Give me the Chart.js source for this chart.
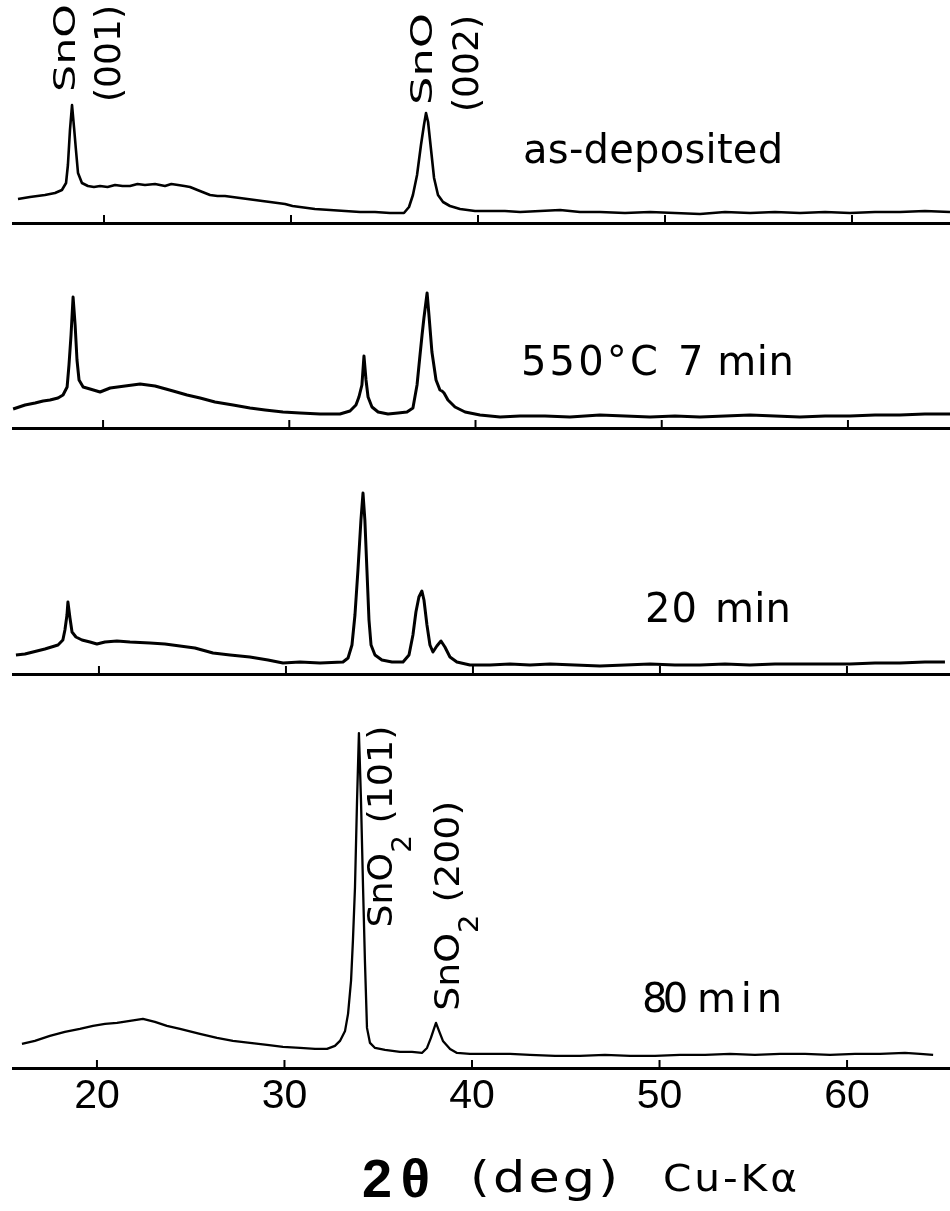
<!DOCTYPE html>
<html>
<head>
<meta charset="utf-8">
<title>XRD – SnO film annealed at 550 °C</title>
<script src="https://cdn.jsdelivr.net/npm/chart.js@4.4.1/dist/chart.umd.min.js"></script>
<style>
  body { margin: 0; background: #fff; }
  #fig { position: relative; width: 950px; height: 1211px; overflow: hidden; }
  #fig canvas { position: absolute; left: 12px; }
</style>
</head>
<body>
<div id="fig">
  <canvas id="scanA" width="938" height="227" style="top:0px"></canvas>
  <canvas id="scanB" width="938" height="182" style="top:250px"></canvas>
  <canvas id="scanC" width="938" height="238" style="top:440px"></canvas>
  <canvas id="scanD" width="938" height="511" style="top:700px"></canvas>
</div>
<script>
// 2θ (deg) and intensity (a.u.) of each scan
const angAsDep = [15.40, 16.04, 16.84, 17.38, 17.75, 17.97, 18.07, 18.18, 18.29, 18.40, 18.50, 18.61, 18.82, 19.14, 19.46, 19.79, 20.19, 20.59, 20.99, 21.39, 21.79, 22.19, 22.73, 23.26, 23.60, 23.96, 24.30, 24.60, 25.13, 25.67, 26.07, 26.47, 26.87, 27.27, 27.67, 28.07, 28.47, 28.88, 29.28, 29.68, 30.08, 30.48, 31.28, 32.09, 32.89, 33.69, 34.49, 35.29, 36.04, 36.31, 36.52, 36.74, 36.95, 37.11, 37.22, 37.33, 37.49, 37.65, 37.86, 38.13, 38.50, 39.04, 39.84, 40.64, 41.44, 42.25, 43.32, 44.39, 45.45, 46.52, 47.86, 49.20, 50.53, 51.87, 53.21, 54.55, 55.88, 57.22, 58.56, 59.89, 61.23, 62.57, 63.90, 65.24];
const intAsDep = [24, 26, 28, 30, 33, 40, 58, 93, 118, 95, 73, 50, 40, 37, 36, 37, 36, 38, 37, 37, 39, 38, 39, 37, 39, 38, 37, 36, 32, 28, 27, 27, 26, 25, 24, 23, 22, 21, 20, 19, 17, 16, 14, 13, 12, 11, 11, 10, 10, 16, 28, 48, 78, 98, 110, 101, 73, 45, 28, 21, 17, 14, 12, 12, 12, 11, 12, 13, 11, 11, 10, 11, 10, 9, 11, 10, 11, 10, 11, 10, 11, 11, 12, 11];

const ang7 = [15.17, 15.81, 16.35, 16.78, 17.15, 17.58, 17.85, 18.07, 18.17, 18.28, 18.39, 18.50, 18.60, 18.71, 18.93, 19.30, 19.84, 20.38, 21.18, 21.99, 22.79, 23.76, 24.51, 25.21, 26.01, 26.98, 27.89, 28.70, 29.66, 30.58, 31.65, 32.72, 33.26, 33.58, 33.74, 33.90, 34.01, 34.12, 34.23, 34.44, 34.77, 35.30, 35.84, 36.32, 36.64, 36.86, 37.02, 37.13, 37.23, 37.40, 37.50, 37.66, 37.88, 38.09, 38.20, 38.31, 38.52, 38.90, 39.44, 40.24, 41.32, 42.39, 43.73, 45.07, 46.68, 48.03, 49.37, 50.71, 52.05, 53.40, 54.74, 56.08, 57.42, 58.77, 60.11, 61.45, 62.79, 64.13, 65.48];
const int7 = [19, 23, 25, 27, 28, 30, 33, 41, 63, 93, 131, 103, 68, 48, 41, 39, 36, 40, 42, 44, 42, 37, 33, 30, 26, 23, 20, 18, 16, 15, 14, 14, 17, 23, 31, 43, 72, 48, 31, 21, 16, 14, 15, 16, 20, 43, 73, 93, 110, 135, 113, 76, 48, 38, 37, 35, 28, 21, 16, 13, 11, 12, 12, 11, 13, 12, 11, 12, 11, 12, 13, 12, 11, 12, 12, 13, 13, 14, 14];

const ang20 = [15.56, 16.04, 16.47, 17.11, 17.81, 18.07, 18.18, 18.29, 18.34, 18.45, 18.56, 18.77, 19.09, 19.52, 19.89, 20.32, 20.96, 21.66, 22.73, 23.53, 24.33, 25.13, 26.10, 27.01, 28.07, 29.04, 29.84, 30.75, 31.82, 33.05, 33.32, 33.53, 33.69, 33.85, 34.01, 34.12, 34.22, 34.33, 34.44, 34.55, 34.76, 35.13, 35.67, 36.26, 36.58, 36.79, 36.95, 37.11, 37.27, 37.38, 37.54, 37.70, 37.86, 38.07, 38.29, 38.50, 38.77, 39.14, 39.84, 40.91, 41.98, 43.05, 44.12, 45.45, 46.79, 48.13, 49.47, 50.80, 52.14, 53.48, 54.81, 56.15, 57.49, 58.82, 60.16, 61.50, 62.83, 64.17, 65.24];
const int20 = [19, 20, 22, 25, 29, 34, 44, 59, 72, 56, 42, 37, 34, 32, 30, 32, 33, 32, 31, 30, 28, 26, 21, 19, 17, 14, 11, 12, 11, 12, 16, 29, 59, 104, 154, 181, 154, 104, 54, 29, 19, 14, 12, 12, 19, 39, 62, 77, 83, 74, 49, 29, 22, 28, 33, 27, 17, 12, 9, 9, 10, 9, 10, 9, 8, 9, 10, 9, 9, 10, 9, 10, 10, 10, 10, 11, 11, 12, 12];

const ang80 = [16.00, 16.69, 17.49, 18.29, 19.09, 19.79, 20.43, 21.07, 21.76, 22.45, 23.09, 23.73, 24.43, 25.49, 26.40, 27.25, 28.16, 29.07, 29.92, 30.83, 31.63, 32.27, 32.69, 32.96, 33.23, 33.39, 33.55, 33.65, 33.76, 33.87, 33.97, 34.08, 34.19, 34.29, 34.40, 34.56, 34.83, 35.36, 36.16, 36.80, 37.33, 37.60, 37.81, 37.97, 38.08, 38.24, 38.45, 38.83, 39.20, 39.89, 40.96, 42.03, 43.09, 44.43, 45.76, 47.09, 48.43, 49.76, 51.09, 52.43, 53.76, 55.09, 56.43, 57.76, 59.09, 60.43, 61.76, 63.09, 63.89, 64.59];
const int80 = [24, 27, 32, 36, 39, 42, 44, 45, 47, 49, 46, 42, 39, 34, 30, 27, 25, 23, 21, 20, 19, 19, 22, 27, 37, 54, 87, 127, 180, 267, 334, 267, 180, 107, 40, 25, 20, 18, 16, 16, 15, 20, 30, 39, 45, 37, 27, 19, 15, 14, 14, 14, 13, 12, 12, 13, 12, 12, 13, 13, 14, 13, 14, 14, 13, 14, 14, 15, 14, 13];

const tickDeg = [20, 30, 40, 50, 60];
const sampleNames = [['as-deposited'], ['550°C', '7 min'], ['20', 'min'], ['80', 'min']];

const FONT = '"DejaVu Sans", "Liberation Sans", sans-serif';

// text stretched by sx, then spread with letter spacing to fill a width
function fitText(ctx, text, x, y, font, width, sx = 1) {
  ctx.save();
  ctx.font = font;
  ctx.letterSpacing = '0px';
  ctx.textAlign = 'left';
  ctx.textBaseline = 'alphabetic';
  const w = ctx.measureText(text).width * sx;
  const n = [...text].length;
  ctx.translate(x, y);
  ctx.scale(sx, 1);
  ctx.letterSpacing = (n > 1 ? (width - w) / (n - 1) / sx : 0) + 'px';
  ctx.fillText(text, 0, 0);
  ctx.restore();
}

// peak assignment written bottom-to-top, stretched along its length
function uprightText(ctx, parts, x, y, size, len) {
  ctx.save();
  ctx.translate(x, y);
  ctx.rotate(-Math.PI / 2);
  ctx.textAlign = 'left';
  ctx.textBaseline = 'middle';
  const fontOf = sub => Math.round(sub ? size * 0.75 : size) + 'px ' + FONT;
  let w = 0;
  for (const [t, sub] of parts) { ctx.font = fontOf(sub); w += ctx.measureText(t).width; }
  ctx.scale(len / w, 1);
  let cx = 0;
  for (const [t, sub] of parts) {
    ctx.font = fontOf(sub);
    ctx.fillText(t, cx, sub ? size * 0.62 : 0);
    cx += ctx.measureText(t).width;
  }
  ctx.restore();
}

const xrdDecor = {
  id: 'xrdDecor',
  afterDraw(chart, args, opts) {
    const { ctx, chartArea } = chart;
    const xs = chart.scales.x, ys = chart.scales.y;
    ctx.save();
    ctx.fillStyle = '#000';
    ctx.strokeStyle = '#000';

    // tick marks stand up from the axis line
    ctx.lineWidth = 2;
    xs.ticks.forEach(t => {
      const px = xs.getPixelForValue(t.value);
      ctx.beginPath();
      ctx.moveTo(px, chartArea.bottom);
      ctx.lineTo(px, chartArea.bottom - 8);
      ctx.stroke();
    });

    (opts.peaks || []).forEach(p => {
      uprightText(ctx, p.parts, xs.getPixelForValue(p.at[0]), ys.getPixelForValue(p.at[1]), p.size, p.len);
    });

    (opts.name || []).forEach(n => {
      fitText(ctx, n.text, xs.getPixelForValue(n.at[0]), ys.getPixelForValue(n.at[1]), '40px ' + FONT, n.width, n.sx || 1);
    });

    if (opts.title) {
      const b = chartArea.bottom;
      fitText(ctx, '2θ', 350, b + 129, 'bold 54px "Liberation Sans", Arial, sans-serif', 68);
      fitText(ctx, '(deg)', 458, b + 124, '43px ' + FONT, 148, 1.18);
      fitText(ctx, 'Cu-Kα', 651, b + 123, '37px ' + FONT, 134, 1.1);
    }
    ctx.restore();
  }
};

const panels = [
  { id: 'scanA', ang: angAsDep, val: intAsDep, xMin: 15.08, xMax: 65.24, yMax: 223, lw: 2.6,
    peaks: [
      { parts: [['SnO']], at: [18.02, 131], size: 31, len: 88 },
      { parts: [['(001)']], at: [20.37, 121], size: 35, len: 97 },
      { parts: [['SnO']], at: [37.11, 118], size: 31, len: 92 },
      { parts: [['(002)']], at: [39.52, 111], size: 35, len: 97 }
    ],
    name: [{ text: sampleNames[0][0], at: [42.41, 60], width: 260 }] },
  { id: 'scanB', ang: ang7, val: int7, xMin: 15.11, xMax: 65.48, yMax: 178, lw: 3,
    name: [
      { text: sampleNames[1][0], at: [42.44, 53], width: 137 },
      { text: sampleNames[1][1], at: [50.87, 53], width: 116 }
    ] },
  { id: 'scanC', ang: ang20, val: int20, xMin: 15.35, xMax: 65.51, yMax: 234, lw: 3,
    name: [
      { text: sampleNames[2][0], at: [49.20, 52], width: 52 },
      { text: sampleNames[2][1], at: [52.94, 52], width: 76 }
    ] },
  { id: 'scanD', ang: ang80, val: int80, xMin: 15.47, xMax: 65.49, yMax: 367, lw: 2.3,
    peaks: [
      { parts: [['SnO'], ['2', true], [' (101)']], at: [35.25, 140], size: 34, len: 202 },
      { parts: [['SnO'], ['2', true], [' (200)']], at: [38.83, 57], size: 34, len: 210 }
    ],
    name: [
      { text: sampleNames[3][0], at: [49.07, 56], width: 46 },
      { text: sampleNames[3][1], at: [52.00, 56], width: 85 }
    ],
    bottom: true }
];

panels.forEach(p => {
  new Chart(document.getElementById(p.id), {
    type: 'line',
    data: {
      datasets: [{
        data: p.ang.map((a, i) => ({ x: a, y: p.val[i] })),
        borderColor: '#000',
        borderWidth: p.lw,
        borderJoinStyle: 'round',
        pointRadius: 0,
        tension: 0,
        fill: false
      }]
    },
    options: {
      responsive: false,
      animation: false,
      events: [],
      layout: { padding: { left: 0, right: 0, top: 0, bottom: p.bottom ? 86 : 4 } },
      scales: {
        x: {
          type: 'linear',
          min: p.xMin,
          max: p.xMax,
          afterBuildTicks: s => { s.ticks = tickDeg.map(v => ({ value: v })); },
          grid: { display: false, drawTicks: false },
          border: { display: true, color: '#000', width: 3 },
          ticks: {
            display: !!p.bottom,
            padding: 8,
            color: '#000',
            font: { family: '"Liberation Sans", Arial, sans-serif', size: 41, lineHeight: 1 }
          }
        },
        y: { display: false, min: 0, max: p.yMax }
      },
      plugins: {
        legend: { display: false },
        tooltip: { enabled: false },
        xrdDecor: { peaks: p.peaks, name: p.name, title: !!p.bottom }
      }
    },
    plugins: [xrdDecor]
  });
});
</script>
</body>
</html>
